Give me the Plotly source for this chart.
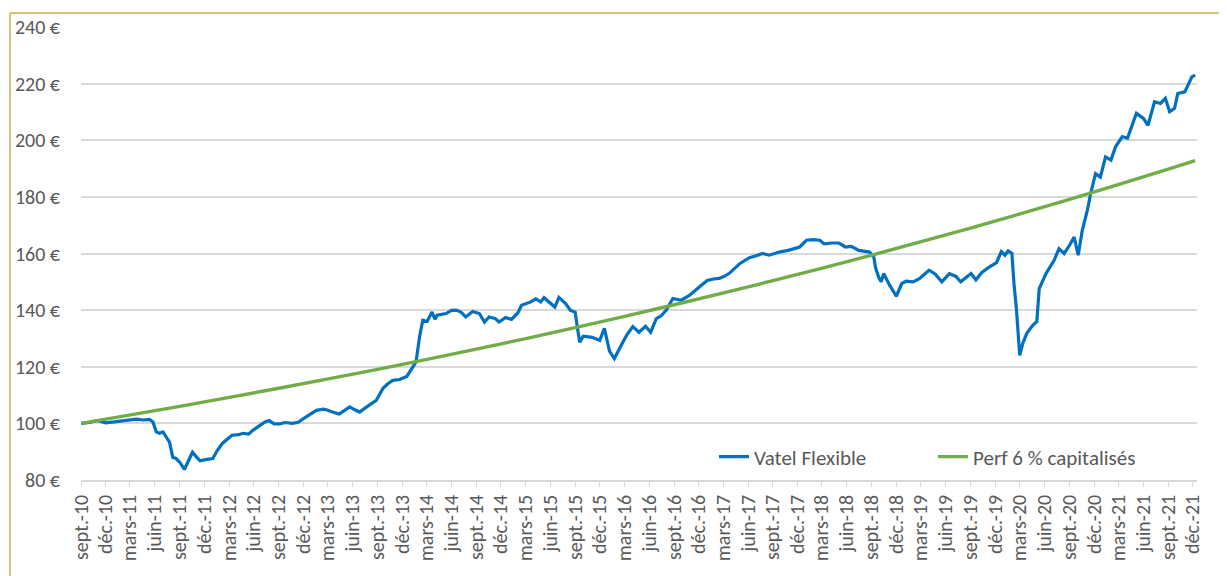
import plotly.graph_objects as go

# ---------------- data ----------------
vatel_dates = [
    "2010-09-01", "2010-10-01", "2010-11-01", "2010-12-01", "2011-01-01", "2011-02-18",
    "2011-03-25", "2011-04-18", "2011-05-12", "2011-05-25", "2011-06-06", "2011-06-18",
    "2011-07-01", "2011-07-25", "2011-08-06", "2011-08-18", "2011-09-03", "2011-09-18",
    "2011-10-01", "2011-10-18", "2011-11-03", "2011-11-15", "2011-12-10", "2012-01-01",
    "2012-01-18", "2012-02-06", "2012-03-12", "2012-04-06", "2012-04-21", "2012-05-12",
    "2012-05-27", "2012-06-21", "2012-07-12", "2012-07-27", "2012-08-15", "2012-09-03",
    "2012-09-24", "2012-10-21", "2012-11-12", "2012-12-01", "2012-12-25", "2013-01-18",
    "2013-02-12", "2013-02-24", "2013-03-18", "2013-04-12", "2013-05-01", "2013-05-21",
    "2013-06-09", "2013-06-27", "2013-07-15", "2013-08-01", "2013-08-27", "2013-09-21",
    "2013-10-09", "2013-10-27", "2013-11-21", "2013-12-18", "2014-01-09", "2014-01-21",
    "2014-02-03", "2014-02-15", "2014-03-03", "2014-03-21", "2014-04-01", "2014-04-09",
    "2014-05-12", "2014-06-01", "2014-06-18", "2014-07-06", "2014-07-24", "2014-08-18",
    "2014-09-12", "2014-10-01", "2014-10-18", "2014-11-09", "2014-11-24", "2014-12-18",
    "2015-01-09", "2015-02-01", "2015-02-15", "2015-03-21", "2015-04-09", "2015-04-27",
    "2015-05-09", "2015-06-03", "2015-06-18", "2015-07-03", "2015-07-27", "2015-08-15",
    "2015-09-01", "2015-09-09", "2015-09-18", "2015-10-01", "2015-11-03", "2015-12-01",
    "2015-12-18", "2016-01-06", "2016-01-24", "2016-02-15", "2016-03-09", "2016-04-01",
    "2016-04-24", "2016-05-18", "2016-06-06", "2016-06-27", "2016-07-15", "2016-08-03",
    "2016-08-27", "2016-09-27", "2016-10-27", "2016-12-03", "2017-01-01", "2017-01-24",
    "2017-02-15", "2017-03-06", "2017-03-24", "2017-05-01", "2017-06-06", "2017-07-01",
    "2017-07-24", "2017-08-18", "2017-09-24", "2017-10-27", "2017-12-09", "2018-01-03",
    "2018-01-27", "2018-02-21", "2018-03-09", "2018-04-06", "2018-05-03", "2018-05-27",
    "2018-06-18", "2018-07-15", "2018-08-24", "2018-09-09", "2018-09-15", "2018-09-27",
    "2018-10-06", "2018-10-15", "2018-11-06", "2018-12-01", "2018-12-21", "2019-01-06",
    "2019-02-01", "2019-02-24", "2019-04-01", "2019-04-24", "2019-05-18", "2019-06-15",
    "2019-07-09", "2019-07-27", "2019-09-03", "2019-09-21", "2019-10-12", "2019-11-09",
    "2019-12-06", "2019-12-24", "2020-01-06", "2020-01-18", "2020-02-01", "2020-02-09",
    "2020-02-18", "2020-03-01", "2020-03-12", "2020-03-27", "2020-04-18", "2020-05-03",
    "2020-05-12", "2020-06-06", "2020-07-06", "2020-07-24", "2020-08-12", "2020-09-01",
    "2020-09-18", "2020-10-03", "2020-10-18", "2020-11-06", "2020-11-18", "2020-12-06",
    "2020-12-24", "2021-01-12", "2021-02-01", "2021-02-18", "2021-03-15", "2021-04-03",
    "2021-05-06", "2021-06-01", "2021-06-18", "2021-07-12", "2021-08-03", "2021-08-21",
    "2021-09-06", "2021-09-24", "2021-10-06", "2021-11-01", "2021-11-27", "2021-12-09",
]
vatel_values = [
    100.0, 100.3, 101.0, 100.2, 100.5, 101.0,
    101.5, 101.2, 101.4, 100.5, 97.0, 96.5,
    97.0, 93.4, 88.0, 87.6, 86.0, 83.7,
    86.2, 89.8, 88.0, 86.8, 87.3, 87.6,
    90.5, 93.0, 95.8, 96.0, 96.5, 96.2,
    97.5, 99.0, 100.5, 101.0, 99.8, 99.8,
    100.3, 100.0, 100.4, 101.7, 103.0, 104.6,
    105.0, 104.8, 104.0, 103.3, 104.5, 105.8,
    104.8, 104.0, 105.3, 106.4, 108.1, 112.4,
    114.0, 115.2, 115.5, 116.6, 119.9, 121.7,
    130.5, 136.4, 136.0, 139.3, 136.8, 138.2,
    138.8, 139.9, 140.0, 139.3, 137.6, 139.5,
    138.8, 135.8, 137.6, 137.1, 135.8, 137.4,
    136.7, 139.0, 141.7, 142.9, 144.0, 142.9,
    144.4, 142.4, 141.1, 144.5, 142.4, 139.9,
    139.3, 134.0, 128.7, 130.8, 130.4, 129.3,
    133.6, 125.5, 122.9, 127.0, 131.1, 134.2,
    132.2, 134.3, 132.2, 137.0, 138.0, 140.0,
    144.1, 143.5, 145.2, 148.2, 150.5, 151.0,
    151.2, 152.0, 153.0, 156.4, 158.5, 159.2,
    160.0, 159.4, 160.5, 161.1, 162.3, 164.7,
    164.9, 164.7, 163.4, 163.7, 163.7, 162.3,
    162.5, 161.1, 160.5, 158.7, 155.0, 151.5,
    150.0, 152.9, 148.8, 144.9, 149.4, 150.2,
    150.0, 151.1, 154.1, 152.7, 150.0, 152.9,
    151.9, 150.0, 152.9, 150.7, 153.2, 155.2,
    156.8, 160.7, 159.4, 160.9, 160.0, 149.0,
    140.0, 124.0, 128.2, 131.8, 134.6, 136.0,
    147.6, 152.9, 157.6, 161.7, 160.0, 162.9,
    165.8, 159.4, 168.2, 175.3, 181.2, 188.2,
    187.0, 194.1, 193.0, 197.7, 201.3, 200.7,
    209.5, 207.7, 205.3, 213.6, 213.0, 214.8,
    210.1, 211.3, 216.5, 217.1, 222.4, 223.0,
]

perf_dates = [
    "2010-09-01", "2011-09-01", "2012-09-01", "2013-09-01", "2014-09-01", "2015-09-01",
    "2016-09-01", "2017-09-01", "2018-09-01", "2019-09-01", "2020-09-01", "2021-09-01",
    "2021-12-09",
]
perf_values = [
    100.0, 106.0, 112.4, 119.1, 126.2, 133.8,
    141.9, 150.4, 159.4, 169.0, 179.1, 189.8,
    192.8,
]

tick_dates = [
    "2010-09-01", "2010-12-01", "2011-03-01", "2011-06-01", "2011-09-01", "2011-12-01",
    "2012-03-01", "2012-06-01", "2012-09-01", "2012-12-01", "2013-03-01", "2013-06-01",
    "2013-09-01", "2013-12-01", "2014-03-01", "2014-06-01", "2014-09-01", "2014-12-01",
    "2015-03-01", "2015-06-01", "2015-09-01", "2015-12-01", "2016-03-01", "2016-06-01",
    "2016-09-01", "2016-12-01", "2017-03-01", "2017-06-01", "2017-09-01", "2017-12-01",
    "2018-03-01", "2018-06-01", "2018-09-01", "2018-12-01", "2019-03-01", "2019-06-01",
    "2019-09-01", "2019-12-01", "2020-03-01", "2020-06-01", "2020-09-01", "2020-12-01",
    "2021-03-01", "2021-06-01", "2021-09-01", "2021-12-01",
]
tick_labels = [
    "sept.-10", "déc.-10", "mars-11", "juin-11", "sept.-11", "déc.-11",
    "mars-12", "juin-12", "sept.-12", "déc.-12", "mars-13", "juin-13",
    "sept.-13", "déc.-13", "mars-14", "juin-14", "sept.-14", "déc.-14",
    "mars-15", "juin-15", "sept.-15", "déc.-15", "mars-16", "juin-16",
    "sept.-16", "déc.-16", "mars-17", "juin-17", "sept.-17", "déc.-17",
    "mars-18", "juin-18", "sept.-18", "déc.-18", "mars-19", "juin-19",
    "sept.-19", "déc.-19", "mars-20", "juin-20", "sept.-20", "déc.-20",
    "mars-21", "juin-21", "sept.-21", "déc.-21",
]
y_ticks = [80, 100, 120, 140, 160, 180, 200, 220, 240]
y_labels = ["80 €", "100 €", "120 €", "140 €", "160 €", "180 €", "200 €", "220 €", "240 €"]

# ---------------- layout geometry ----------------
# The page body has an 8px margin, so the figure is offset by (8, 8) in the window.
OFF = 8
WIN_W, WIN_H = 1227, 576
W, H = WIN_W - OFF, WIN_H - OFF
# plot area in window pixels
L0, R0, T0, B0 = 81, 1197, 27, 480
L, R, T, B = L0 - OFF, R0 - OFF, T0 - OFF, B0 - OFF


def px(x):  # window pixel -> paper x
    return (x - L0) / (R0 - L0)


def py(y):  # window pixel -> paper y
    return (B0 - y) / (B0 - T0)


FONT = "Calibri, Carlito, Lato, 'Open Sans', sans-serif"
TXT = "#595959"

fig = go.Figure()
fig.add_trace(go.Scatter(
    x=vatel_dates, y=vatel_values, mode="lines", name="Vatel Flexible",
    line=dict(color="#0070C0", width=3.2),
))
fig.add_trace(go.Scatter(
    x=perf_dates, y=perf_values, mode="lines", name="Perf 6 % capitalisés",
    line=dict(color="#70AD47", width=3.4, shape="spline", smoothing=0.6),
))

shapes = [
    # thin frame line at top
    dict(type="line", xref="paper", yref="paper", x0=px(10), x1=px(WIN_W), y0=py(13), y1=py(13),
         line=dict(color="#C9AE4C", width=1.5)),
    # left frame line
    dict(type="line", xref="paper", yref="paper", x0=px(10), x1=px(10), y0=py(13), y1=py(WIN_H),
         line=dict(color="#C9AE4C", width=1.5)),
]

fig.update_layout(
    width=W, height=H,
    margin=dict(l=L, r=W - R, t=T, b=H - B, pad=0, autoexpand=False),
    paper_bgcolor="white", plot_bgcolor="white",
    font=dict(family=FONT, color=TXT, size=20),
    showlegend=True,
    legend=dict(
        orientation="h", x=px(714), xanchor="left", y=py(457), yanchor="middle",
        bgcolor="rgba(0,0,0,0)", font=dict(size=21, color=TXT),
        itemwidth=30, entrywidthmode="pixels", entrywidth=174,
    ),
    xaxis=dict(
        type="date", range=["2010-09-01", "2021-12-16"], automargin=False,
        tickmode="array", tickvals=tick_dates, ticktext=tick_labels,
        tickangle=-90, tickfont=dict(size=20, color=TXT),
        showgrid=False, zeroline=False,
        showline=True, linecolor="#D9D9D9", linewidth=1.5,
        ticks="outside", ticklen=5, tickcolor="#D9D9D9", tickwidth=1,
    ),
    yaxis=dict(
        range=[80, 240], automargin=False, tickmode="array", tickvals=y_ticks, ticktext=y_labels,
        tickfont=dict(size=20, color=TXT),
        showgrid=True, gridcolor="#D9D9D9", gridwidth=2,
        zeroline=False, showline=False, ticks="", ticklabelstandoff=20,
    ),
    shapes=shapes,
)

fig.write_html("out.html")
